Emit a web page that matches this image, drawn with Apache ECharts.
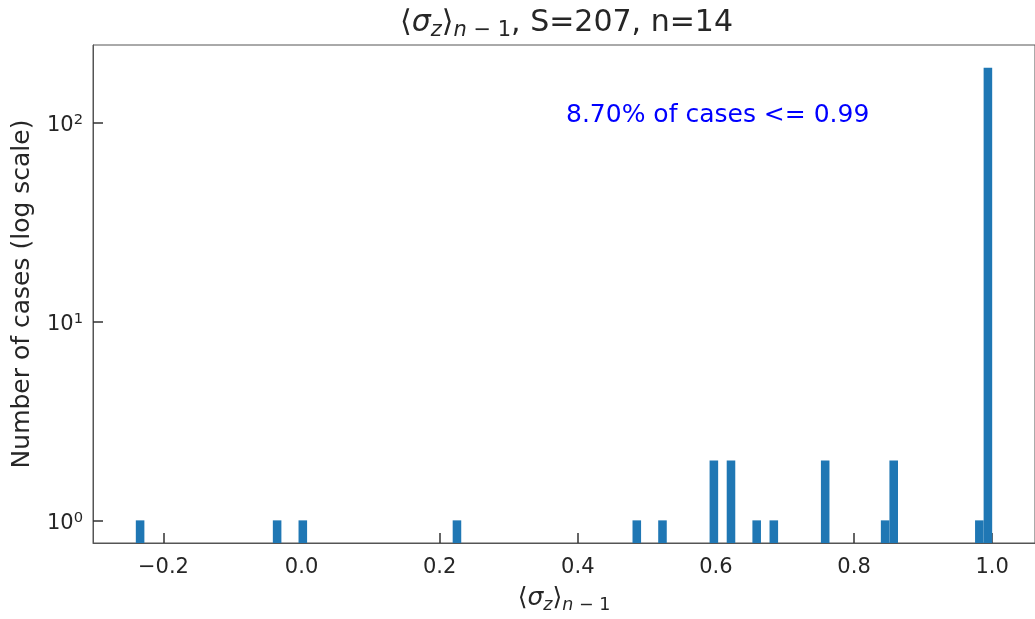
<!DOCTYPE html>
<html>
<head>
<meta charset="utf-8">
<script src="https://cdn.jsdelivr.net/npm/echarts@6/dist/echarts.min.js"></script>
<style>html,body{margin:0;padding:0;background:#fff;}#main{width:1035px;height:619px;}</style>
</head>
<body>
<div id="main"></div>
<script>
// Histogram data (100 bins over [-0.24, 1.0], only non-empty bins listed)
const binWidth = 0.0124;
const binLeft = [-0.24, -0.0416, -0.0044, 0.2188, 0.4792, 0.5164, 0.5908, 0.6156, 0.6528, 0.6776, 0.752, 0.8388, 0.8512, 0.9752, 0.9876];
const counts  = [1, 1, 1, 1, 1, 1, 2, 2, 1, 1, 2, 1, 2, 1, 189];
const xTicks = [-0.2, 0.0, 0.2, 0.4, 0.6, 0.8, 1.0];
const yTicks = [1, 10, 100];
const xRange = [-0.302, 1.062];
const yRange = [0.7694, 245.6];
const annotationText = '8.70% of cases <= 0.99';

const FONT = 'DejaVu Sans';
const TXT = '#262626';
const SPINE = '#555555';

const mathRich = (size) => ({
  n: {fontFamily: FONT, fontSize: size, fontWeight: 'normal', color: TXT, lineHeight: size + 6},
  i: {fontFamily: FONT, fontSize: size, fontWeight: 'normal', fontStyle: 'italic', color: TXT, lineHeight: size + 6},
  si: {fontFamily: FONT, fontSize: size * 0.7, fontWeight: 'normal', fontStyle: 'italic', color: TXT, verticalAlign: 'bottom', lineHeight: size * 0.8},
  s: {fontFamily: FONT, fontSize: size * 0.7, fontWeight: 'normal', color: TXT, verticalAlign: 'bottom', lineHeight: size * 0.8}
});
const sigmaLabel = '{n|⟨}{i|σ}{si|z}{n|⟩}{si|n}{s| − 1}';

const data = binLeft.map((x, i) => [x, x + binWidth, counts[i]]);

const chart = echarts.init(document.getElementById('main'), null, {renderer: 'canvas'});
chart.setOption({
  animation: false,
  backgroundColor: '#ffffff',
  title: {
    text: sigmaLabel + '{n|, S=207, n=14}',
    left: 395,
    top: 0,
    textStyle: {fontWeight: 'normal', fontFamily: FONT, fontSize: 30, color: TXT, rich: mathRich(30)}
  },
  grid: {
    left: 93, top: 45, width: 945, height: 501,
    show: true, borderColor: SPINE, borderWidth: 1, backgroundColor: 'transparent'
  },
  xAxis: {
    type: 'value',
    min: xRange[0], max: xRange[1],
    splitLine: {show: false},
    axisLine: {show: true, onZero: false, lineStyle: {color: SPINE, width: 1}},
    axisTick: {show: true, inside: true, length: 10, customValues: xTicks, lineStyle: {color: '#333', width: 1.5}},
    axisLabel: {
      customValues: xTicks,
      fontFamily: FONT, fontSize: 21, color: TXT, margin: 14,
      formatter: v => v.toFixed(1).replace('-', '−')
    },
    name: sigmaLabel,
    nameLocation: 'middle',
    nameGap: 40,
    nameTextStyle: {rich: mathRich(25)}
  },
  yAxis: {
    type: 'log',
    logBase: 10,
    min: yRange[0], max: yRange[1],
    splitLine: {show: false},
    axisLine: {show: true, onZero: false, lineStyle: {color: SPINE, width: 1}},
    axisTick: {show: true, inside: true, length: 10, customValues: yTicks, lineStyle: {color: '#333', width: 1.5}},
    axisLabel: {
      customValues: yTicks,
      margin: 10,
      padding: [6, 0, 0, 0],
      formatter: v => '{b|10}{sup|' + Math.round(Math.log10(v)) + '}',
      rich: {
        b: {fontFamily: FONT, fontSize: 21, color: TXT, lineHeight: 26},
        sup: {fontFamily: FONT, fontSize: 14.7, color: TXT, verticalAlign: 'top', lineHeight: 16}
      }
    },
    name: 'Number of cases (log scale)',
    nameLocation: 'middle',
    nameGap: 58,
    nameRotate: 90,
    nameTextStyle: {fontFamily: FONT, fontSize: 25, color: TXT}
  },
  graphic: [{
    type: 'text',
    left: 566, top: 103,
    style: {text: annotationText, fill: '#0000ff', font: '25px "DejaVu Sans"'}
  }],
  series: [{
    type: 'custom',
    data: data,
    encode: {x: [0, 1], y: 2},
    clip: true,
    renderItem: function (params, api) {
      const x0 = api.value(0), x1 = api.value(1), c = api.value(2);
      const pTop = api.coord([x0, c]);
      const pRight = api.coord([x1, c]);
      const bottom = params.coordSys.y + params.coordSys.height;
      return {
        type: 'rect',
        shape: {x: pTop[0], y: pTop[1], width: pRight[0] - pTop[0], height: bottom - pTop[1]},
        style: {fill: '#1f77b4'}
      };
    }
  }]
});
</script>
</body>
</html>
